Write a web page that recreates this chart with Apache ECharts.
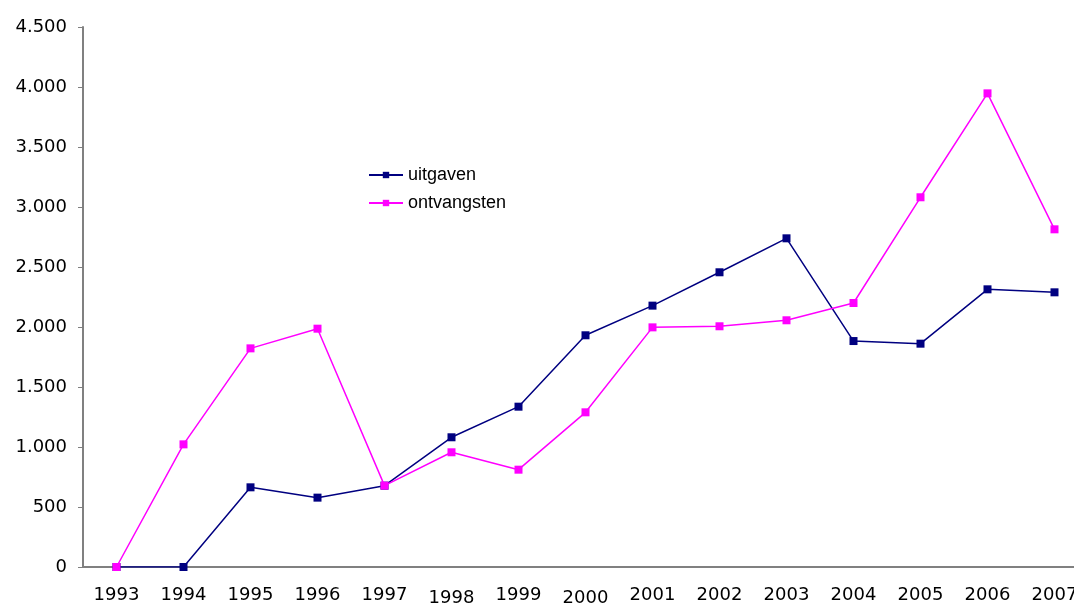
<!DOCTYPE html>
<html>
<head>
<meta charset="utf-8">
<script src="https://cdn.jsdelivr.net/npm/echarts@6/dist/echarts.min.js"></script>
<style>
html,body{margin:0;padding:0;background:#fff;}
#chart{width:1074px;height:604px;}
</style>
</head>
<body>
<div id="chart"></div>
<script>
const years = ['1993','1994','1995','1996','1997','1998','1999','2000','2001','2002','2003','2004','2005','2006','2007'];
const uitgaven = [0, 0, 664, 578, 678, 1081, 1336, 1931, 2178, 2456, 2739, 1883, 1861, 2314, 2289];
const ontvangsten = [0, 1022, 1822, 1986, 678, 956, 811, 1289, 1997, 2006, 2056, 2200, 3081, 3947, 2814];
const yMin = 0, yMax = 4500, yStep = 500;
const lowLabels = ['1998','2000'];

const chart = echarts.init(document.getElementById('chart'));
chart.setOption({
  animation: false,
  backgroundColor: '#ffffff',
  grid: { left: 83, top: 27, width: 1005, height: 540, containLabel: false, outerBoundsMode: 'none' },
  legend: {
    orient: 'vertical',
    left: 363,
    top: 161,
    itemWidth: 34,
    itemHeight: 8,
    itemGap: 10,
    textStyle: { fontFamily: 'Liberation Sans, Arial, sans-serif', fontSize: 18, color: '#000' },
    data: ['uitgaven', 'ontvangsten']
  },
  xAxis: {
    type: 'category',
    data: years,
    boundaryGap: true,
    axisLine: { show: true, lineStyle: { color: '#808080', width: 2 } },
    axisTick: { show: false },
    axisLabel: {
      color: '#000',
      fontFamily: 'DejaVu Sans, Verdana, sans-serif',
      fontSize: 18,
      margin: 19,
      interval: 0,
      formatter: function (v) { return lowLabels.indexOf(v) >= 0 ? '{low|' + v + '}' : v; },
      rich: { low: { padding: [3, 0, 0, 0], fontSize: 18, fontFamily: 'DejaVu Sans, Verdana, sans-serif', color: '#000' } }
    },
    splitLine: { show: false }
  },
  yAxis: {
    type: 'value',
    min: yMin,
    max: yMax,
    interval: yStep,
    axisLine: { show: true, lineStyle: { color: '#808080', width: 2 } },
    axisTick: { show: true, length: 5, lineStyle: { color: '#808080', width: 1 } },
    axisLabel: {
      color: '#000',
      fontFamily: 'DejaVu Sans, Verdana, sans-serif',
      fontSize: 18,
      margin: 16,
      formatter: function (v) { return String(v).replace(/\B(?=(\d{3})+(?!\d))/g, '.'); }
    },
    splitLine: { show: false }
  },
  series: [
    {
      name: 'uitgaven',
      type: 'line',
      data: uitgaven,
      symbol: 'rect',
      symbolSize: 8,
      color: '#000080',
      lineStyle: { color: '#000080', width: 1.5 },
      itemStyle: { color: '#000080' },
      z: 3
    },
    {
      name: 'ontvangsten',
      type: 'line',
      data: ontvangsten,
      symbol: 'rect',
      symbolSize: 8,
      color: '#ff00ff',
      lineStyle: { color: '#ff00ff', width: 1.5 },
      itemStyle: { color: '#ff00ff' },
      z: 4
    }
  ]
});
</script>
</body>
</html>
